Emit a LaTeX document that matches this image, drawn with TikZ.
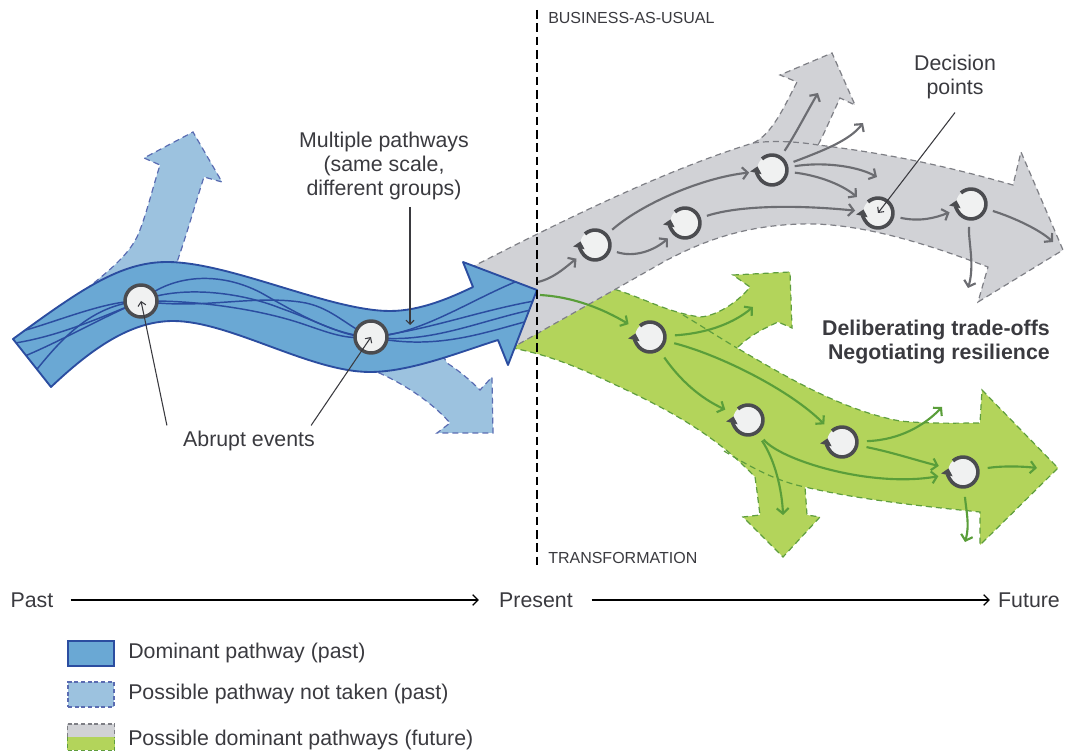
\documentclass[tikz,border=0pt]{standalone}
\usepackage{fontspec}
\setmainfont{Liberation Sans}
\usetikzlibrary{arrows.meta,calc}
\definecolor{bdark}{HTML}{2B4DA0}
\definecolor{bfill}{HTML}{6AA8D4}
\definecolor{lbfill}{HTML}{9CC2DF}
\definecolor{lbline}{HTML}{5A6CB2}
\definecolor{gfill}{HTML}{D1D2D6}
\definecolor{gline}{HTML}{7E7F85}
\definecolor{grfill}{HTML}{B3D45B}
\definecolor{grline}{HTML}{5F9E3E}
\definecolor{cfill}{HTML}{F0F1F1}
\definecolor{cring}{HTML}{4B4C50}
\definecolor{garrow}{HTML}{6C6D72}
\definecolor{grarrow}{HTML}{5A9E3A}
\definecolor{txt}{HTML}{3A3A3F}
\tikzset{
  lbl/.style={font=\fontsize{16}{18}\selectfont, text=txt, inner sep=0pt},
  blbl/.style={font=\fontsize{16}{18}\selectfont\bfseries, text=txt, inner sep=0pt},
  smalllbl/.style={font=\fontsize{12}{14}\selectfont, text=txt, inner sep=0pt},
  bandline/.style={dash pattern=on 4.5pt off 3pt, line width=0.9pt},
  grayband/.style={fill=gfill, draw=gline, bandline},
  greenband/.style={fill=grfill, draw=grline, bandline},
  nottaken/.style={fill=lbfill, draw=lbline, bandline},
  inl/.style={draw=bdark, line width=1.1pt},
  dpnode/.style={circle, minimum size=22.5pt, inner sep=0pt, fill=cfill, outer sep=6pt},
  evnode/.style={circle, minimum size=24pt, inner sep=0pt, fill=cfill, draw=cring, line width=2.6pt},
  ringst/.style={draw=cring, line width=2.7pt, -{Triangle[length=5pt,width=8.5pt]}},
  garr/.style={draw=garrow, line width=1.6pt, -{Straight Barb[length=4pt,width=9pt]}},
  grarr/.style={draw=grarrow, line width=1.6pt, -{Straight Barb[length=4pt,width=9pt]}},
  ann/.style={draw=txt, line width=0.8pt, -{Straight Barb[length=3pt,width=6pt]}},
  tl/.style={draw=black, line width=1pt, -{Straight Barb[length=4pt,width=8pt]}},
  vdash/.style={draw=black, line width=1.1pt, dash pattern=on 6.5pt off 3.5pt},
  legbox/.style={rectangle, minimum width=34.5pt, minimum height=18.75pt, inner sep=0pt, line width=1pt}
}
\newcommand\ringat[1]{\draw[ringst] ([shift={(132:11.2pt)}]#1.center) arc[start angle=132, end angle=-194, radius=11.2pt];}
\def\bandpath{(13,339) .. controls (80,290) and (120,262) .. (167,262) .. controls (230,262) and (330,311) .. (390,311) .. controls (420,311) and (450,298) .. (473,287) -- (463,262) -- (537,290) -- (508,365) -- (498,340) .. controls (460,352) and (410,372) .. (370,372) .. controls (310,372) and (230,321) .. (173,321) .. controls (130,321) and (90,350) .. (51,387) -- cycle}
\begin{document}
\begin{tikzpicture}[x=0.75pt,y=-0.75pt]
\useasboundingbox (0,0) rectangle (1065,752);
% green band
\filldraw[greenband] (512,348) -- (610,288) .. controls (640,296) and (665,312) .. (700,317) .. controls (718,316) and (740,300) .. (750,287) -- (733,275) -- (790,272) -- (792,328) -- (778,322) .. controls (765,328) and (750,335) .. (737,348) .. controls (780,373) and (840,410) .. (900,421) .. controls (930,424) and (960,423) .. (980,423) -- (982,390) -- (1058,468) -- (980,545) -- (980,512) .. controls (930,507) and (860,500) .. (805,487) -- (807,515) -- (820,517) -- (783,557) -- (743,517) -- (760,515) .. controls (758,500) and (757,490) .. (755,477) .. controls (720,440) and (680,415) .. (620,387) .. controls (580,368) and (550,355) .. (512,348) -- cycle;
\draw[draw=grline, bandline] (683,315) .. controls (700,325) and (720,338) .. (737,348);
\draw[draw=grline, bandline] (724,451) .. controls (755,470) and (780,482) .. (805,487);
% gray band
\filldraw[grayband] (470,268) .. controls (560,222) and (660,172) .. (753,143) .. controls (772,135) and (785,105) .. (797,82) -- (780,75) -- (832,53) -- (855,105) -- (840,98) .. controls (832,115) and (825,132) .. (818,145) .. controls (900,155) and (960,170) .. (1013,185) -- (1021,152) -- (1063,250) -- (978,302) -- (988,267) .. controls (930,245) and (860,222) .. (800,224) .. controls (740,226) and (700,243) .. (667,260) -- (517,345) -- (500,330) -- cycle;
\draw[draw=gline, bandline] (753,143) .. controls (775,140) and (800,142) .. (818,145);
% pathways not taken
\filldraw[nottaken] (95,300) -- (90,286) .. controls (110,270) and (128,255) .. (137,237) .. controls (145,220) and (152,190) .. (160,165) -- (144,158) -- (193,132) -- (222,182) -- (204,177) .. controls (198,195) and (185,240) .. (177,262) -- (180,300) -- cycle;
\filldraw[nottaken] (370,355) -- (377,372) .. controls (400,382) and (430,400) .. (450,423) -- (437,433) -- (493,433) -- (492,377) -- (480,390) .. controls (470,380) and (458,370) .. (447,363) -- (440,350) -- cycle;
% dominant pathway
\fill[bfill] \bandpath;
\begin{scope}
\clip \bandpath;
\draw[inl] (0,345) .. controls (50,340) and (95,320) .. (141,301) .. controls (175,272) and (225,272) .. (265,295) .. controls (300,315) and (335,335) .. (371,337) .. controls (420,335) and (470,300) .. (520,280);
\draw[inl] (10,362) .. controls (55,345) and (100,318) .. (141,301) .. controls (180,285) and (240,292) .. (280,308) .. controls (320,322) and (345,338) .. (371,337) .. controls (430,330) and (480,310) .. (540,300);
\draw[inl] (30,378) .. controls (60,340) and (90,305) .. (141,301) .. controls (200,310) and (250,295) .. (300,302) .. controls (330,306) and (345,325) .. (371,337) .. controls (430,345) and (480,320) .. (540,308);
\draw[inl] (0,336) .. controls (40,330) and (100,300) .. (141,301) .. controls (200,300) and (260,310) .. (300,323) .. controls (330,333) and (345,340) .. (371,337) .. controls (440,352) and (490,330) .. (540,318);
\end{scope}
\draw[draw=bdark, line width=1.4pt, line join=round] \bandpath;
% present line
\coordinate (vtop) at (537,10);
\coordinate (vbot) at (537,566);
\draw[vdash] (vtop) -- (vbot);
% event circles
\node[evnode] (e1) at (141,301) {};
\node[evnode] (e2) at (371,337) {};
% decision points (business-as-usual)
\node[dpnode] (c1) at (595,245) {};
\node[dpnode] (c2) at (685,223) {};
\node[dpnode] (c3) at (772,170) {};
\node[dpnode] (c4) at (878,213) {};
\node[dpnode] (c5) at (971,204) {};
% decision points (transformation)
\node[dpnode, outer sep=7.5pt] (g1) at (650,337) {};
\node[dpnode, outer sep=7.5pt] (g2) at (748,420) {};
\node[dpnode, outer sep=7.5pt] (g3) at (842,442) {};
\node[dpnode, outer sep=7.5pt] (g4) at (963,472) {};
\foreach \n in {c1,c2,c3,c4,c5,g1,g2,g3,g4} {\ringat{\n}}
% free ends
\coordinate (gs) at (538,282);
\coordinate (gs2) at (540,295);
\coordinate (u1) at (818,93);
\coordinate (u2) at (863,123);
\coordinate (u3) at (877,177);
\coordinate (u4) at (857,197);
\coordinate (u5) at (1053,242);
\coordinate (u6) at (968,288);
\coordinate (v1) at (753,307);
\coordinate (v2) at (783,515);
\coordinate (v3) at (942,407);
\coordinate (v4) at (1037,468);
\coordinate (v5) at (965,542);
% gray arrows
\draw[garr] (gs) .. controls (555,278) and (568,265) .. (c1);
\draw[garr] (c1) .. controls (635,258) and (655,250) .. (c2);
\draw[garr] (c1) .. controls (640,205) and (700,178) .. (c3);
\draw[garr] (c2) .. controls (740,205) and (800,205) .. (c4);
\draw[garr] (c3) .. controls (795,135) and (808,110) .. (u1);
\draw[garr] (c3) .. controls (825,150) and (850,140) .. (u2);
\draw[garr] (c3) .. controls (820,162) and (855,165) .. (u3);
\draw[garr] (c3) .. controls (815,175) and (840,183) .. (u4);
\draw[garr] (c4) .. controls (920,222) and (935,218) .. (c5);
\draw[garr] (c5) .. controls (1015,218) and (1040,230) .. (u5);
\draw[garr] (c5) .. controls (968,240) and (975,265) .. (u6);
% green arrows
\draw[grarr] (gs2) .. controls (575,297) and (605,310) .. (g1);
\draw[grarr] (g1) .. controls (710,333) and (735,322) .. (v1);
\draw[grarr] (g1) .. controls (680,380) and (700,398) .. (g2);
\draw[grarr] (g1) .. controls (720,355) and (790,390) .. (g3);
\draw[grarr] (g2) .. controls (775,460) and (782,490) .. (v2);
\draw[grarr] (g2) .. controls (780,460) and (870,488) .. (g4);
\draw[grarr] (g3) .. controls (900,440) and (925,425) .. (v3);
\draw[grarr] (g3) .. controls (895,453) and (915,460) .. (g4);
\draw[grarr] (g4) .. controls (1000,466) and (1020,466) .. (v4);
\draw[grarr] (g4) .. controls (966,510) and (970,525) .. (v5);
% labels
\node[smalllbl, anchor=west] (bau) at (548,18) {BUSINESS-AS-USUAL};
\node[smalllbl, anchor=west] (tra) at (548,558) {TRANSFORMATION};
\node[lbl, align=center] (mp) at (384,166) {Multiple pathways\\(same scale,\\different groups)};
\node[lbl] (ae) at (249,441) {Abrupt events};
\node[lbl, align=center] (dpt) at (955,77) {Decision\\points};
\node[blbl, align=right, anchor=east] (dtr) at (1050,342) {Deliberating trade-offs\\Negotiating resilience};
% pointers
\coordinate (mptip) at (410,325);
\draw[ann] ([yshift=-5pt]mp.south -| mptip) -- (mptip);
\draw[ann] ([xshift=-12pt,yshift=4pt]ae.north west) -- (e1.center);
\draw[ann] ([xshift=-3pt,yshift=4pt]ae.north east) -- (e2.center);
\draw[ann] ([yshift=-10pt]dpt.south) -- (c4.center);
% timeline
\node[lbl] (past) at (32,600) {Past};
\node[lbl] (present) at (536,600) {Present};
\node[lbl] (future) at (1029,600) {Future};
\draw[tl] ([xshift=12.75pt]past.east) -- ([xshift=-15pt]present.west);
\draw[tl] ([xshift=14pt]present.east) -- ([xshift=-6pt]future.west);
% legend
\node[legbox, fill=bfill, draw=bdark] (l1) at (91,653.5) {};
\node[legbox, fill=lbfill, draw=lbline, dash pattern=on 3pt off 2pt] (l2) at (91,694.5) {};
\node[legbox] (l3) at (91,737) {};
\fill[gfill] (l3.north west) rectangle (l3.east);
\fill[grfill] (l3.west) rectangle (l3.south east);
\draw[draw=gline, line width=1pt, dash pattern=on 3pt off 2pt] (l3.west) |- (l3.north east) -- (l3.east);
\draw[draw=grline, line width=1pt, dash pattern=on 3pt off 2pt] (l3.west) |- (l3.south east) -- (l3.east);
\node[lbl, anchor=west] (t1) at (128,653) {Dominant pathway (past)};
\node[lbl, anchor=west] (t2) at (128,694) {Possible pathway not taken (past)};
\node[lbl, anchor=west] (t3) at (128,740) {Possible dominant pathways (future)};
\end{tikzpicture}
\end{document}
